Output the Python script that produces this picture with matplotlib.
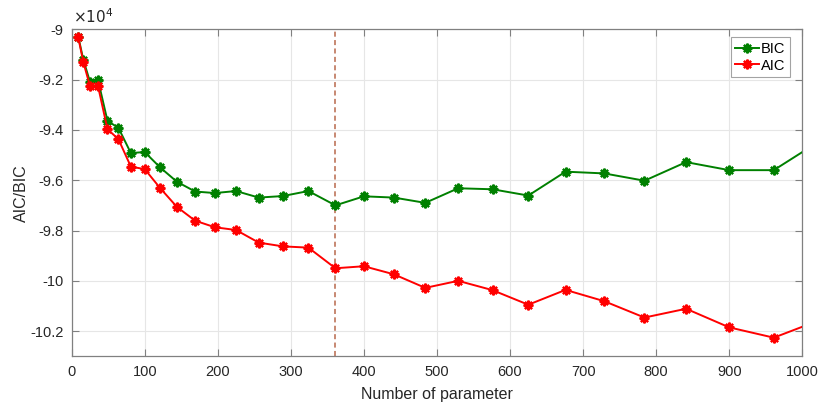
import matplotlib
matplotlib.use("Agg")
import matplotlib.pyplot as plt
from matplotlib.ticker import FuncFormatter, MultipleLocator

plt.rcParams['font.family'] = ['Liberation Sans', 'DejaVu Sans']

# Number of model parameters and the information criteria (units of 1e4)
n_params = [9, 16, 25, 36, 49, 64, 81, 100, 121, 144, 169, 196, 225, 256, 289,
            324, 361, 400, 441, 484, 529, 576, 625, 676, 729, 784, 841, 900,
            961, 1024]
bic = [-9.029, -9.122, -9.208, -9.201, -9.364, -9.392, -9.492, -9.488, -9.549,
       -9.606, -9.645, -9.651, -9.643, -9.669, -9.663, -9.643, -9.700, -9.664,
       -9.669, -9.690, -9.632, -9.636, -9.661, -9.566, -9.573, -9.602, -9.528,
       -9.560, -9.560, -9.444]
aic = [-9.032, -9.131, -9.225, -9.225, -9.397, -9.437, -9.546, -9.556, -9.631,
       -9.706, -9.761, -9.787, -9.798, -9.848, -9.863, -9.868, -9.950, -9.942,
       -9.974, -10.028, -10.000, -10.037, -10.095, -10.036, -10.081, -10.146,
       -10.111, -10.185, -10.226, -10.156]
chosen = 361
scale = 1e4

fig = plt.figure(figsize=(8.21, 4.03), dpi=100)
ax = fig.add_axes([0.0873, 0.1159, 0.8899, 0.8114])

axis_color = '#808080'
text_color = '#262626'

star = (8, 2, 0)
ax.plot(n_params, [v * scale for v in bic], color='#008000', lw=1.4,
        marker=star, ms=7, mew=1.6, label='BIC', zorder=3)
ax.plot(n_params, [v * scale for v in aic], color='#ff0000', lw=1.4,
        marker=star, ms=7, mew=1.6, label='AIC', zorder=3)
ax.axvline(chosen, color='#b8684c', lw=1.1, ls=(0, (3.3, 2.2)), zorder=2)

ax.set_xlim(0, 1000)
ax.set_ylim(-10.3 * scale, -9.0 * scale)
ax.xaxis.set_major_locator(MultipleLocator(100))
ax.yaxis.set_major_locator(MultipleLocator(0.2 * scale))
ax.yaxis.set_major_formatter(
    FuncFormatter(lambda v, p: '%g' % round(v / scale, 2)))

ax.grid(True, color='#e6e6e6', lw=0.8)
ax.set_axisbelow(True)
ax.tick_params(direction='in', length=5, width=0.8, colors=axis_color,
               labelcolor=text_color, labelsize=10.5, top=True, right=True,
               pad=6)
for s in ax.spines.values():
    s.set_color(axis_color)
    s.set_linewidth(0.9)

ax.set_xlabel('Number of parameter', fontsize=11.5, color=text_color,
              labelpad=6)
ax.set_ylabel('AIC/BIC', fontsize=11.5, color=text_color, labelpad=1)

fig.text(0.0885, 0.935, r'$\times10^4$', fontsize=11, color=text_color,
         ha='left', va='bottom', family='Liberation Sans')

leg = ax.legend(loc='upper right', bbox_to_anchor=(0.9828, 0.9755),
                borderaxespad=0, fontsize=10.5, frameon=True, fancybox=False,
                handlelength=1.6, handletextpad=0.15, borderpad=0.3,
                labelspacing=0.2)
leg.get_frame().set_edgecolor('#8c8c8c')
leg.get_frame().set_linewidth(0.8)
for t in leg.get_texts():
    t.set_color('#000000')

fig.savefig('out.png', dpi=100)
